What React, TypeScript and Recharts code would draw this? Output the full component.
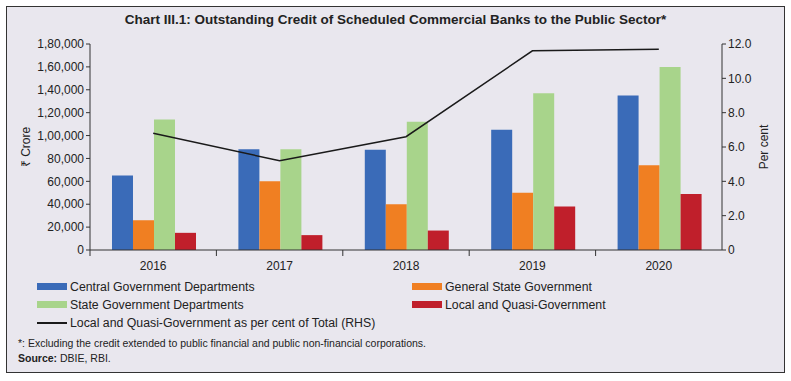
import React from "react";
import { ComposedChart, Bar, Line, XAxis, YAxis, Label } from "recharts";

const years = ["2016", "2017", "2018", "2019", "2020"];
const centralGovt = [65000, 88000, 87500, 105000, 135000];
const generalState = [26000, 60000, 40000, 50000, 74000];
const stateGovt = [114000, 88000, 112000, 137000, 160000];
const localQuasi = [15000, 13000, 17000, 38000, 49000];
const localShare = [6.8, 5.2, 6.6, 11.6, 11.7];

const leftTicks = [0, 20000, 40000, 60000, 80000, 100000, 120000, 140000, 160000, 180000];
const rightTicks = [0, 2, 4, 6, 8, 10, 12];

const BLUE = "#3a6bb8";
const ORANGE = "#f07f22";
const GREEN = "#a8d48b";
const RED = "#c01f2b";
const BG = "#e9e7ee";
const FONT = "'Liberation Sans', Arial, sans-serif";

const data = years.map((y, i) => ({
  year: y,
  central: centralGovt[i],
  general: generalState[i],
  state: stateGovt[i],
  local: localQuasi[i],
  share: localShare[i],
}));

// 1,80,000 style grouping
function indian(n: number) {
  const s = String(Math.round(n));
  if (s.length <= 3) return s;
  const last3 = s.slice(-3);
  let rest = s.slice(0, -3);
  const parts: string[] = [];
  while (rest.length > 2) {
    parts.unshift(rest.slice(-2));
    rest = rest.slice(0, -2);
  }
  if (rest) parts.unshift(rest);
  return parts.join(",") + "," + last3;
}

const PLOT_W = 632;
const BAND = PLOT_W / years.length;

function YearTick(props: any) {
  const { x, y, payload } = props;
  const left = x - BAND / 2;
  return (
    <g>
      <line x1={left} y1={y - 8} x2={left} y2={y - 2} stroke="#333" />
      <text x={x} y={y + 12} textAnchor="middle" fill="#222" fontSize={12} fontFamily={FONT}>
        {payload.value}
      </text>
    </g>
  );
}

function Swatch({ color, line }: { color: string; line?: boolean }) {
  return (
    <span
      style={{
        display: "inline-block",
        width: 30,
        height: line ? 2 : 7,
        background: color,
        marginRight: 3,
        verticalAlign: "middle",
      }}
    />
  );
}

export default function App() {
  const legendRow = (top: number, left: number, color: string, text: string, line?: boolean) => (
    <div style={{ position: "absolute", top, left, fontSize: 12.3, color: "#222", whiteSpace: "nowrap", lineHeight: "14px" }}>
      <Swatch color={color} line={line} />
      <span style={{ verticalAlign: "middle" }}>{text}</span>
    </div>
  );

  return (
    <div style={{ position: "absolute", left: 0, top: 0, width: 791, height: 381, background: "#fff", fontFamily: FONT }}>
      <div
        style={{
          position: "absolute",
          left: 6,
          top: 6,
          width: 777,
          height: 365,
          border: "1px solid #333",
          background: BG,
        }}
      />
      <div
        style={{
          position: "absolute",
          top: 12,
          left: 0,
          width: 791,
          textAlign: "center",
          fontSize: 13.5,
          fontWeight: "bold",
          color: "#222",
        }}
      >
        Chart III.1: Outstanding Credit of Scheduled Commercial Banks to the Public Sector*
      </div>
      <div style={{ position: "absolute", left: 0, top: 0 }}>
        <ComposedChart
          width={791}
          height={381}
          data={data}
          margin={{ top: 44, left: 30, right: 29, bottom: 111 }}
          barCategoryGap="17.4%"
          barGap={0}
        >
          <XAxis
            dataKey="year"
            height={20}
            stroke="#333"
            tickLine={false}
            tick={<YearTick />}
            interval={0}
          />
          <YAxis
            yAxisId="left"
            width={60}
            domain={[0, 180000]}
            ticks={leftTicks}
            tickFormatter={indian}
            stroke="#333"
            tickSize={4}
            tick={{ fill: "#222", fontSize: 12, fontFamily: FONT }}
          >
            <Label
              value="₹ Crore"
              angle={-90}
              position="insideLeft"
              offset={-4}
              style={{ fill: "#222", fontSize: 12, fontFamily: FONT, textAnchor: "middle" }}
            />
          </YAxis>
          <YAxis
            yAxisId="right"
            orientation="right"
            width={40}
            domain={[0, 12]}
            ticks={rightTicks}
            tickFormatter={(v: number) => (v === 0 ? "0" : v.toFixed(1))}
            stroke="#333"
            tickSize={4}
            tick={{ fill: "#222", fontSize: 12, fontFamily: FONT }}
          >
            <Label
              value="Per cent"
              angle={-90}
              position="insideRight"
              offset={-2}
              style={{ fill: "#222", fontSize: 12, fontFamily: FONT, textAnchor: "middle" }}
            />
          </YAxis>
          <Bar yAxisId="left" dataKey="central" fill={BLUE} isAnimationActive={false} />
          <Bar yAxisId="left" dataKey="general" fill={ORANGE} isAnimationActive={false} />
          <Bar yAxisId="left" dataKey="state" fill={GREEN} isAnimationActive={false} />
          <Bar yAxisId="left" dataKey="local" fill={RED} isAnimationActive={false} />
          <Line
            yAxisId="right"
            dataKey="share"
            stroke="#1a1a1a"
            strokeWidth={1.5}
            dot={false}
            type="linear"
            isAnimationActive={false}
          />
        </ComposedChart>
      </div>
      {legendRow(279, 37, BLUE, "Central Government Departments")}
      {legendRow(279, 412, ORANGE, "General State Government")}
      {legendRow(297, 37, GREEN, "State Government Departments")}
      {legendRow(297, 412, RED, "Local and Quasi-Government")}
      {legendRow(315, 37, "#1a1a1a", "Local and Quasi-Government as per cent of Total (RHS)", true)}
      <div style={{ position: "absolute", top: 337, left: 18, fontSize: 10.5, color: "#222", whiteSpace: "nowrap" }}>
        *: Excluding the credit extended to public financial and public non-financial corporations.
      </div>
      <div style={{ position: "absolute", top: 352, left: 18, fontSize: 10.5, color: "#222", whiteSpace: "nowrap" }}>
        <b>Source:</b> DBIE, RBI.
      </div>
    </div>
  );
}
